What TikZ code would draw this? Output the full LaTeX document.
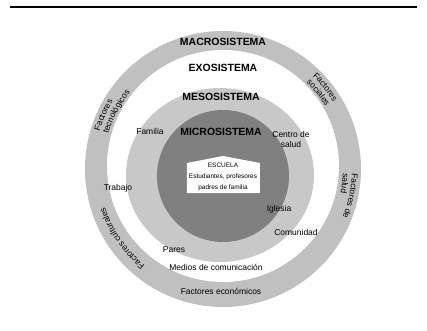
\documentclass[tikz,border=0pt]{standalone}
\usepackage{fontspec}
\setmainfont{Liberation Sans}
\usetikzlibrary{decorations.text}
\definecolor{ringgray}{RGB}{192,192,192}
\definecolor{mesogray}{RGB}{200,200,200}
\definecolor{microgray}{RGB}{128,128,128}
\newcommand{\arco}{\fontsize{8.5}{9}\selectfont}

\begin{document}
\begin{tikzpicture}[x=1bp,y=1bp,
    nivel/.style={font=\fontsize{10.5}{12}\selectfont\bfseries},
    factor/.style={font=\fontsize{8.5}{10}\selectfont, align=center},
    casa/.style={font=\fontsize{6.5}{11}\selectfont, align=center, inner sep=0pt}]
  \useasboundingbox (-223,-162) rectangle (204,169);
  \draw[line width=1.5bp] (-213,162) -- (194,162);
  \begin{scope}
    \def\macro{138}
    \def\exo{116}
    \def\micro{66}
    \fill[ringgray] (0,0) circle (\macro);
    \fill[white] (0,3) circle (\exo);
    \fill[mesogray] (-3,-6) ellipse [x radius=94, y radius=87];
    \fill[microgray] (0,-7) circle (\micro);
    % escuela
    \fill[white] (-36,-24) -- (-36,6) -- (0,13) -- (37,6) -- (37,-24) -- cycle;
  \end{scope}

  \node[nivel] (macro) at (0,127) {MACROSISTEMA};
  \node[nivel] (exo) at (0,101) {EXOSISTEMA};
  \node[nivel] (meso) at (-2,72) {MESOSISTEMA};
  \node[nivel] (micro) at (-2,37) {MICROSISTEMA};
  \node[casa] (escuela) at (0,-8) {ESCUELA\\Estudiantes, profesores\\padres de familia};

  \node[factor] (familia) at (-73,38) {Familia};
  \node[factor] (salud) at (68,29.5) {Centro de\\salud};
  \node[factor] (trabajo) at (-105,-19) {Trabajo};
  \node[factor] (pares) at (-49,-81) {Pares};
  \node[factor] (iglesia) at (56,-40) {Iglesia};
  \node[factor] (comunidad) at (73,-63) {Comunidad};
  \node[factor] (medios) at (-7,-98) {Medios de comunicación};
  \node[factor] (economicos) at (-2,-122) {Factores económicos};

  % textos curvos del anillo exterior
  \path[decorate, decoration={text along path, text align=left, text={|\arco|Factores}}]
    (163:129) arc[start angle=163, end angle=100, radius=129];
  \path[decorate, decoration={text along path, text align=left, text={|\arco|tecnológicos}}]
    (163:120) arc[start angle=163, end angle=100, radius=120];
  \path[decorate, decoration={text along path, text align=left, text={|\arco|Factores}}]
    (46:129) arc[start angle=46, end angle=-10, radius=129];
  \path[decorate, decoration={text along path, text align=left, text={|\arco|sociales}}]
    (46:120) arc[start angle=46, end angle=-10, radius=120];
  \path[decorate, decoration={text along path, text align=left, text={|\arco|Factores de}}]
    (-2:129) arc[start angle=-2, end angle=-60, radius=129];
  \path[decorate, decoration={text along path, text align=left, text={|\arco|salud}}]
    (-2:120) arc[start angle=-2, end angle=-60, radius=120];
  \path[decorate, decoration={text along path, text align=left, text={|\arco|Factores culturales}}]
    (231:124) arc[start angle=231, end angle=170, radius=124];
\end{tikzpicture}
\end{document}
